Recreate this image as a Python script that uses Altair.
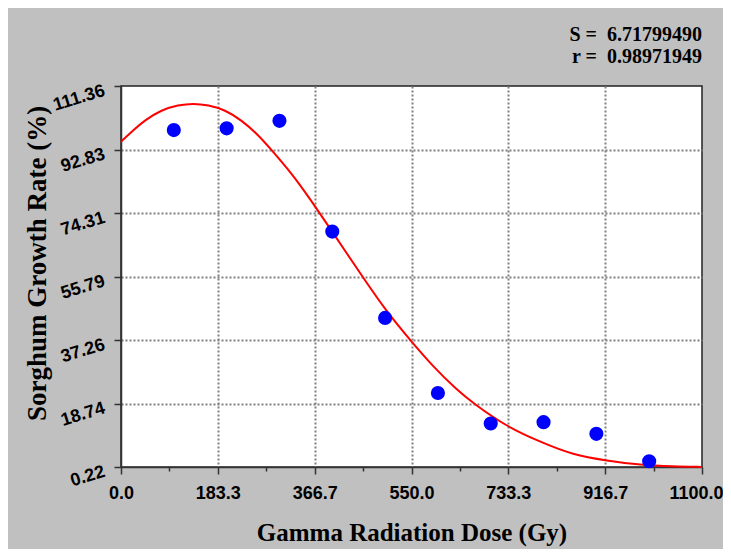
import altair as alt
import pandas as pd

# Observed data (dose in Gy, growth rate in %)
DOSE = [100, 200, 300, 400, 500, 600, 700, 800, 900, 1000]
GROWTH = [98.5, 99.0, 101.2, 68.9, 43.7, 21.8, 12.9, 13.3, 9.9, 1.9]

# Fitted curve
CURVE_X = [0, 20, 45, 77, 108, 137, 165, 197, 228, 260, 285, 323, 355, 402, 459,
           503, 550, 591, 636, 667, 730, 793, 856, 920, 983, 1045, 1100]
CURVE_Y = [95.1, 98.0, 101.4, 104.4, 105.8, 106.3, 105.8, 104.4, 101.4, 97.1, 92.7,
           85.9, 79.1, 68.4, 55.3, 45.5, 36.8, 29.5, 22.7, 18.8, 12.0, 7.6, 3.7,
           2.06, 0.8, 0.35, 0.25]

X_TICKS = [0.0, 183.3333, 366.6667, 550.0, 733.3333, 916.6667, 1100.0]
Y_TICKS = [0.22, 18.74, 37.26, 55.79, 74.31, 92.83, 111.36]

STATS = ["S = \u00a06.71799490", "r = \u00a00.98971949"]


def with_minor(major, n=4):
    vals = []
    for a, b in zip(major[:-1], major[1:]):
        for k in range(n):
            vals.append(round(a + (b - a) * k / n, 4))
    vals.append(major[-1])
    return vals


def major_test(major):
    arr = ",".join(str(v) for v in major)
    return f"indexof([{arr}], datum.value) >= 0"


def inner_test(major):
    arr = ",".join(str(v) for v in major[1:-1])
    return f"indexof([{arr}], datum.value) >= 0"


points = pd.DataFrame({"x": DOSE, "y": GROWTH})
curve = pd.DataFrame({"x": CURVE_X, "y": CURVE_Y})

xscale = alt.Scale(domain=[0, 1100], nice=False, zero=False)
yscale = alt.Scale(domain=[0.22, 111.36], nice=False, zero=False)

x_axis = alt.Axis(
    values=with_minor(X_TICKS),
    format=".1f",
    labelExpr=f"{major_test(X_TICKS)} ? datum.label : ''",
    title="Gamma Radiation Dose (Gy)",
    titleFont="Liberation Serif",
    titleFontSize=25,
    titleFontWeight="bold",
    titleColor="black",
    titlePadding=18,
    labelFont="Liberation Sans",
    labelFontSize=18,
    labelFontWeight="bold",
    labelColor="black",
    labelPadding=10,
    labelFlush=False,
    labelOverlap=False,
    labelBound=False,
    labelOffset={"condition": {"test": f"datum.value == {X_TICKS[-1]}", "value": -6}, "value": 0},
    tickColor="#333333",
    tickWidth=1.5,
    tickSize={"condition": {"test": major_test(X_TICKS), "value": 7}, "value": 4},
    domainColor="#333333",
    domainWidth=1.5,
    grid=True,
    gridColor="#808080",
    gridDash=[2, 2],
    gridWidth=2,
    gridOpacity={"condition": {"test": inner_test(X_TICKS), "value": 1}, "value": 0},
)

y_axis = alt.Axis(
    values=with_minor(Y_TICKS),
    format=".2f",
    labelExpr=f"{major_test(Y_TICKS)} ? datum.label : ''",
    title="Sorghum Growth Rate (%)",
    titleFont="Liberation Serif",
    titleFontSize=27,
    titleFontWeight="bold",
    titleColor="black",
    titleBaseline="middle",
    titleX=-84,
    titleY=177,
    labelFont="Liberation Sans",
    labelFontSize=18,
    labelFontWeight="bold",
    labelColor="black",
    labelAngle=343,
    labelAlign="right",
    labelBaseline="middle",
    labelPadding=10,
    labelOffset=4,
    labelFlush=False,
    labelOverlap=False,
    labelBound=False,
    tickColor="#333333",
    tickWidth=1.5,
    tickSize={"condition": {"test": major_test(Y_TICKS), "value": 7}, "value": 4},
    domainColor="#333333",
    domainWidth=1.5,
    grid=True,
    gridColor="#808080",
    gridDash=[2, 2],
    gridWidth=2,
    gridOpacity={"condition": {"test": inner_test(Y_TICKS), "value": 1}, "value": 0},
)

line = alt.Chart(curve).mark_line(color="#FF0000", strokeWidth=2, interpolate="basis").encode(
    x=alt.X("x:Q", scale=xscale, axis=x_axis),
    y=alt.Y("y:Q", scale=yscale, axis=y_axis),
)

dots = alt.Chart(points).mark_point(filled=True, shape="circle", size=200, color="#0000FF", opacity=1).encode(
    x=alt.X("x:Q", scale=xscale),
    y=alt.Y("y:Q", scale=yscale),
)

chart = alt.layer(line, dots).properties(
    width=581,
    height=381,
    background="#C0C0C0",
    padding={"left": 113, "top": 78, "right": 21, "bottom": 82},
    autosize=alt.AutoSizeParams(type="none"),
    title=alt.TitleParams(
        text=STATS,
        anchor="end",
        frame="group",
        font="Liberation Serif",
        fontSize=20,
        fontWeight="bold",
        color="black",
        lineHeight=22,
        offset=14,
    ),
).configure_view(
    fill="white",
    stroke="#222222",
    strokeWidth=1.5,
)

chart.save("out.html", embed_options={"renderer": "svg", "actions": False})
